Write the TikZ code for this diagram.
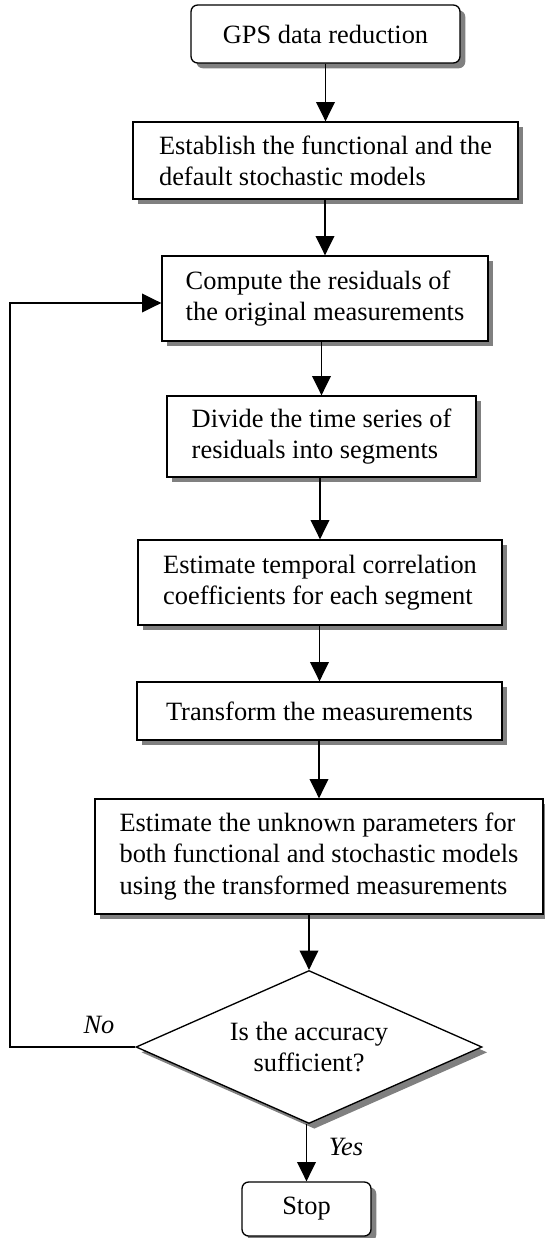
\documentclass[tikz,border=0pt]{standalone}
\usepackage{fontspec}
\setmainfont{Liberation Serif}
\usetikzlibrary{arrows.meta,shapes.geometric,shadows}
\begin{document}
\begin{tikzpicture}[x=0.75pt,y=-0.75pt,
  font=\fontsize{19.8}{23.3}\selectfont,
  shad/.style={drop shadow={shadow xshift=4pt,shadow yshift=-4pt,fill=black!50,opacity=1}},
  proc/.style={draw,line width=1pt,fill=white,shad,align=left,inner sep=0pt},
  term/.style={proc,rounded corners=5pt,align=center},
  dec/.style={draw,line width=1pt,fill=white,shad,shape=diamond,aspect=2.3,inner sep=0pt,align=center,minimum width={346*0.75pt},minimum height={153*0.75pt}},
  arr/.style={line width=1.1pt,-{Triangle[width=14pt,length=14.5pt]}},
  lab/.style={font=\fontsize{19.8}{23.3}\selectfont\itshape,anchor=base}]
\useasboundingbox (0,0) rectangle (544,1238);
\node[term,minimum width={269*0.75pt},minimum height={58*0.75pt}] (b1) at (325.5,34) {GPS data reduction};
\node[proc,minimum width={385*0.75pt},minimum height={77*0.75pt}] (b2) at (325.5,160.5) {Establish the functional and the\\default stochastic models};
\node[proc,minimum width={326*0.75pt},minimum height={85*0.75pt}] (b3) at (325,298.5) {Compute the residuals of\\the original measurements};
\node[proc,minimum width={309*0.75pt},minimum height={81*0.75pt}] (b4) at (321.5,436.5) {Divide the time series of\\residuals into segments};
\node[proc,minimum width={364*0.75pt},minimum height={85*0.75pt}] (b5) at (320,582.5) {Estimate temporal correlation\\coefficients for each segment};
\node[proc,minimum width={365*0.75pt},minimum height={58*0.75pt}] (b6) at (319.5,711) {Transform the measurements};
\node[proc,minimum width={448*0.75pt},minimum height={115*0.75pt}] (b7) at (319,856.5) {Estimate the unknown parameters for\\both functional and stochastic models\\using the transformed measurements};
\node[dec] (d) at (309,1047) {Is the accuracy\\sufficient?};
\node[term,minimum width={129*0.75pt},minimum height={54*0.75pt}] (st) at (306.5,1209) {Stop};
\coordinate (fb) at (10,303);
\draw[arr] (b1.south -| b2.north) -- (b2.north);
\draw[arr] (b2.south -| b3.north) -- (b3.north);
\draw[arr] (b3.south -| b4.north) -- (b4.north);
\draw[arr] (b4.south -| b5.north) -- (b5.north);
\draw[arr] (b5.south -| b6.north) -- (b6.north);
\draw[arr] (b6.south -| b7.north) -- (b7.north);
\draw[arr] (b7.south -| d.north) -- (d.north);
\draw[arr] (d.south -| st.north) -- (st.north);
\draw[arr] (d.west) -| (fb) -- (fb -| b3.west);
\node[lab] (no) at (99,1033) {No};
\node[lab] (yes) at (346,1155) {Yes};
\end{tikzpicture}
\end{document}
